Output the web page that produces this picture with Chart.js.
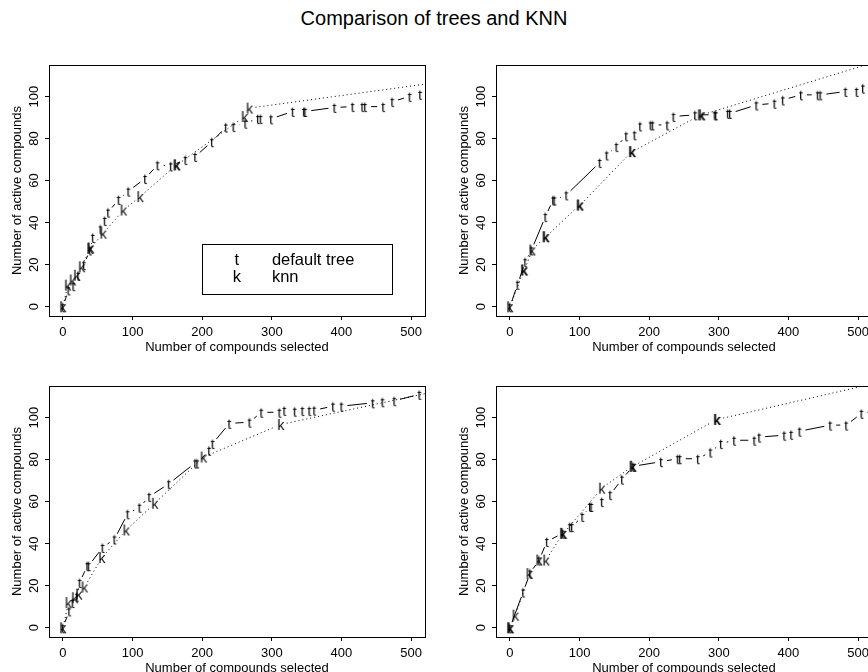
<!DOCTYPE html>
<html>
<head>
<meta charset="utf-8">
<script src="https://cdn.jsdelivr.net/npm/chart.js@4.4.1/dist/chart.umd.min.js"></script>
<style>
  html, body { margin: 0; padding: 0; background: #fff; }
  body { width: 868px; height: 672px; overflow: hidden; position: relative; }
  #title { position: absolute; left: 0; top: 7px; width: 868px; text-align: center;
           font: 20px/23px "Liberation Sans", Arial, sans-serif; color: #000; }
  canvas { position: absolute; }
</style>
</head>
<body>
<div id="title">Comparison of trees and KNN</div>
<canvas id="p1" width="447" height="321" style="left:0;top:45px"></canvas>
<canvas id="p2" width="447" height="321" style="left:447px;top:45px"></canvas>
<canvas id="p3" width="447" height="321" style="left:0;top:366px"></canvas>
<canvas id="p4" width="447" height="321" style="left:447px;top:366px"></canvas>
<script>
// x = compounds selected, y = active compounds
const tree1X = [0, 8, 15, 22, 30, 39, 43, 54, 60, 65, 80, 94, 118, 136, 155, 176, 190, 214, 234, 245, 262, 280, 284, 299, 330, 346, 348, 390, 416, 430, 434, 460, 473, 498, 513];
const tree1Y = [0, 8, 10, 15, 20, 27, 33, 37, 41, 45, 51, 55, 61, 67.5, 67, 70, 71.5, 78.5, 85.5, 85.7, 87.3, 89.5, 89.5, 89.4, 92.9, 92.9, 92.9, 94.8, 95.2, 95.2, 95.2, 95.2, 97.6, 100, 101];
const knn1X = [0, 7, 14, 20, 27, 39, 40, 58, 87, 111, 163, 164, 261, 268, 700];
const knn1Y = [0, 10.3, 12.7, 15, 19, 27.8, 28, 35, 46, 52.4, 67.5, 67.5, 90.5, 94.5, 114];

const tree2X = [0, 11, 22, 31, 51, 62, 64, 81, 129, 139, 153, 167, 179, 187, 202, 205, 226, 235, 266, 294, 296, 313, 316, 354, 380, 392, 418, 442, 446, 482, 498, 507];
const tree2Y = [0, 10.7, 21.4, 27, 42.9, 50.8, 50.8, 53.2, 68.6, 72.2, 76.2, 81.3, 81.8, 86, 86.5, 86.5, 86.5, 90.5, 91.3, 91.3, 91.3, 92, 92, 96, 96.8, 98.4, 100.8, 100.8, 100.8, 102.4, 102.4, 104];
const knn2X = [0, 20, 21, 32, 51, 52, 100, 101, 175, 176, 274, 276, 600];
const knn2Y = [0, 17.5, 17.5, 27, 33.3, 33.3, 48.4, 48.4, 73.8, 73.8, 91.3, 91.3, 124];

const tree3X = [0, 9, 14, 20, 24, 35, 37, 57, 74, 93, 110, 124, 152, 190, 193, 210, 215, 239, 268, 285, 311, 318, 333, 344, 354, 361, 388, 400, 445, 459, 476, 512];
const tree3Y = [0, 8, 12, 15, 21.5, 29.5, 29.5, 38.2, 42.2, 54.2, 57.3, 62.4, 68.5, 78.4, 78.4, 84.4, 87.6, 97.2, 97.8, 102.5, 102.5, 103.4, 103, 103.3, 103.3, 103.5, 105.4, 105.4, 107, 107.5, 108, 111];
const knn3X = [0, 8, 17, 23, 31, 56, 91, 132, 202, 313, 600];
const knn3Y = [0, 12, 14.3, 16, 19.4, 33.4, 46.5, 59.2, 81.2, 96.7, 117];

const tree4X = [0, 19, 29, 42, 53, 76, 86, 89, 104, 115, 117, 132, 144, 161, 177, 217, 241, 244, 270, 288, 303, 322, 351, 358, 394, 404, 416, 460, 483, 505, 540];
const tree4Y = [0, 17, 26, 32.2, 41, 45, 48.1, 48.1, 52.9, 57.7, 57.7, 60, 63.3, 70.7, 76.8, 79, 80.4, 80.4, 80.4, 83.6, 87.6, 89.2, 89.2, 90.7, 91.6, 92, 93.5, 96.4, 96.4, 102, 104];
const knn4X = [0, 1, 8, 28, 42, 52, 76, 77, 132, 176, 177, 297, 298, 600];
const knn4Y = [0, 0, 6, 25.8, 32.2, 32.2, 44.9, 44.9, 66.4, 76.8, 76.8, 99.1, 99.1, 122];

const seriesNames = ['default tree', 'knn'];
const symbols = ['t', 'k'];
const xTicks = [0, 100, 200, 300, 400, 500];
const yTicks = [0, 20, 40, 60, 80, 100];

const FONT = '"Liberation Sans", Arial, Helvetica, sans-serif';
Chart.defaults.font.family = FONT;
Chart.defaults.color = '#000';

// a letter used as plotting symbol, centred on the point
function glyph(ch, size) {
    const c = document.createElement('canvas');
    c.width = Math.ceil(size) + 2;
    c.height = Math.ceil(size * 1.2) + 2;
    const g = c.getContext('2d');
    g.font = size + 'px ' + FONT;
    g.fillStyle = '#000';
    g.textAlign = 'center';
    const m = g.measureText(ch);
    g.fillText(ch, c.width / 2, c.height / 2 + (m.actualBoundingBoxAscent - m.actualBoundingBoxDescent) / 2);
    return c;
}

// lines like R type="b": each segment stops short of the symbols
const GAP = 6;
const gappedLines = {
    id: 'gappedLines',
    beforeDatasetsDraw(chart) {
        const { ctx, chartArea: a } = chart;
        ctx.save();
        ctx.beginPath();
        ctx.rect(a.left, a.top, a.right - a.left, a.bottom - a.top);
        ctx.clip();
        chart.data.datasets.forEach((ds, i) => {
            const pts = chart.getDatasetMeta(i).data;
            ctx.strokeStyle = ds.borderColor;
            ctx.lineWidth = ds.borderWidth;
            ctx.setLineDash(ds.borderDash);
            for (let j = 1; j < pts.length; j++) {
                const p0 = pts[j - 1], p1 = pts[j];
                const dx = p1.x - p0.x, dy = p1.y - p0.y;
                const f = GAP / Math.hypot(dx, dy);
                if (!(f < 0.5)) continue;
                ctx.beginPath();
                ctx.moveTo(p0.x + f * dx, p0.y + f * dy);
                ctx.lineTo(p1.x - f * dx, p1.y - f * dy);
                ctx.stroke();
            }
        });
        ctx.restore();
    }
};

const frame = {
    id: 'frame',
    afterDraw(chart) {
        const { ctx, chartArea: a } = chart;
        ctx.save();
        ctx.strokeStyle = '#000';
        ctx.lineWidth = 1;
        ctx.strokeRect(Math.round(a.left) + 0.5, Math.round(a.top) + 0.5,
            Math.round(a.right - a.left), Math.round(a.bottom - a.top));
        ctx.restore();
    }
};

const legendBox = {
    id: 'legendBox',
    afterDraw(chart, args, o) {
        if (!o.show) return;
        const { ctx, scales: { x, y } } = chart;
        const left = Math.round(x.getPixelForValue(o.x)) + 0.5;
        const top = Math.round(y.getPixelForValue(o.y)) + 0.5;
        ctx.save();
        ctx.strokeStyle = '#000';
        ctx.lineWidth = 1;
        ctx.strokeRect(left, top, o.width, o.height);
        ctx.font = o.fontSize + 'px ' + FONT;
        ctx.fillStyle = '#000';
        ctx.textBaseline = 'middle';
        chart.data.datasets.forEach((ds, i) => {
            const cy = top + o.rowTop + i * o.rowGap;
            ctx.textAlign = 'center';
            ctx.fillText(symbols[i], left + o.symX, cy);
            ctx.textAlign = 'left';
            ctx.fillText(ds.label, left + o.textX, cy);
        });
        ctx.restore();
    }
};

function series(i, xs, ys, dash) {
    return {
        label: seriesNames[i],
        data: xs.map((x, k) => ({ x: x, y: ys[k] })),
        pointStyle: glyph(symbols[i], 14),
        pointRadius: 4,
        pointHoverRadius: 4,
        showLine: false,
        borderColor: '#000',
        borderWidth: 1,
        borderDash: dash,
    };
}

function makeChart(id, treeX, treeY, knnX, knnY, legend) {
    const axisGrid = { drawOnChartArea: false, tickLength: 4, color: '#000', lineWidth: 1 };
    new Chart(document.getElementById(id), {
        type: 'scatter',
        data: {
            datasets: [series(0, treeX, treeY, []), series(1, knnX, knnY, [1, 3])],
        },
        options: {
            responsive: false,
            animation: false,
            events: [],
            layout: { padding: { top: 20, right: 22, left: 0, bottom: 0 } },
            plugins: {
                legend: { display: false },
                tooltip: { enabled: false },
                legendBox: legend || { show: false },
            },
            scales: {
                x: {
                    type: 'linear',
                    min: -20,
                    max: 520,
                    afterBuildTicks: (s) => { s.ticks = xTicks.map((v) => ({ value: v })); },
                    afterFit: (s) => { s.height = 50; },
                    grid: axisGrid,
                    border: { display: false },
                    ticks: { font: { size: 13 }, padding: 5, maxRotation: 0, autoSkip: false },
                    title: {
                        display: true,
                        text: 'Number of compounds selected',
                        font: { size: 13 },
                        padding: { top: 0, bottom: 11 },
                    },
                },
                y: {
                    type: 'linear',
                    min: -4.4,
                    max: 115,
                    afterBuildTicks: (s) => { s.ticks = yTicks.map((v) => ({ value: v })); },
                    afterFit: (s) => { s.width = 49; },
                    grid: axisGrid,
                    border: { display: false },
                    ticks: { font: { size: 13 }, padding: 0, minRotation: 90, maxRotation: 90, crossAlign: 'center', autoSkip: false },
                    title: {
                        display: true,
                        text: 'Number of active compounds',
                        font: { size: 13 },
                        padding: { top: 10, bottom: 0 },
                    },
                },
            },
        },
        plugins: [gappedLines, frame, legendBox],
    });
}

makeChart('p1', tree1X, tree1Y, knn1X, knn1Y, {
    show: true, x: 200, y: 30, width: 190, height: 50,
    rowTop: 16, rowGap: 17.4, symX: 34.4, textX: 69.4, fontSize: 16.5,
});
makeChart('p2', tree2X, tree2Y, knn2X, knn2Y);
makeChart('p3', tree3X, tree3Y, knn3X, knn3Y);
makeChart('p4', tree4X, tree4Y, knn4X, knn4Y);
</script>
</body>
</html>
